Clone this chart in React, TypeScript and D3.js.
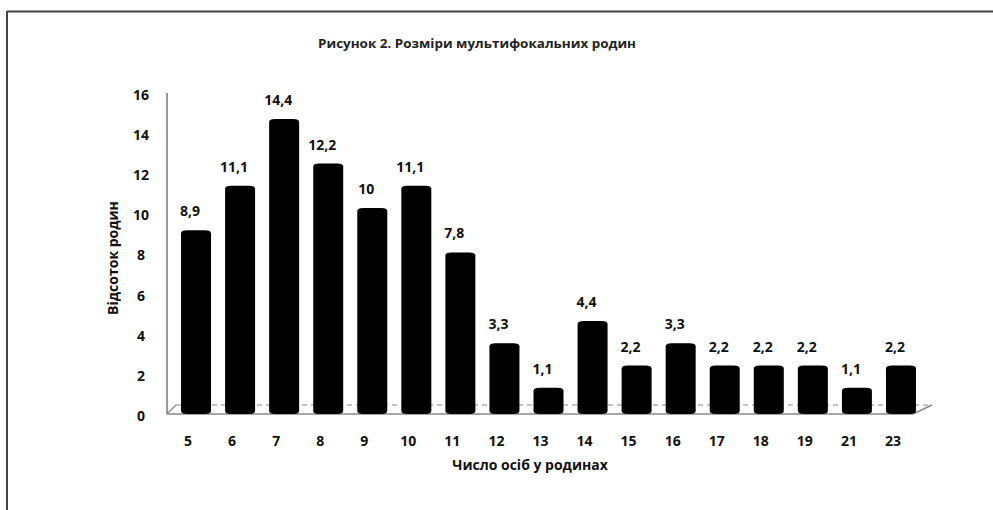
import React, { useEffect, useRef } from 'react';
import * as d3 from 'd3';

const categories = ["5", "6", "7", "8", "9", "10", "11", "12", "13", "14", "15", "16", "17", "18", "19", "21", "23"];
const values = [8.9, 11.1, 14.4, 12.2, 10, 11.1, 7.8, 3.3, 1.1, 4.4, 2.2, 3.3, 2.2, 2.2, 2.2, 1.1, 2.2];
const yTicks = [0, 2, 4, 6, 8, 10, 12, 14, 16];

const title = "Рисунок 2. Розміри мультифокальних родин";
const xTitle = "Число осіб у родинах";
const yTitle = "Відсоток родин";

const font = "'Open Sans', 'DejaVu Sans', sans-serif";

const App = () => {
    const ref = useRef<SVGSVGElement>(null);

    useEffect(() => {
        const svg = d3.select(ref.current);
        svg.selectAll("*").remove();

        const width = 993, height = 510;
        svg.attr("width", width).attr("height", height);

        // frame (top and left edge of the scanned page)
        svg.append("line").attr("x1", 7).attr("x2", width).attr("y1", 11.5).attr("y2", 11.5)
            .attr("stroke", "#444").attr("stroke-width", 2);
        svg.append("line").attr("x1", 7).attr("x2", 7).attr("y1", 11).attr("y2", height)
            .attr("stroke", "#444").attr("stroke-width", 2);

        const x = d3.scaleBand().domain(categories).range([166, 915]);
        const yAxis = d3.scaleLinear().domain([0, 16]).range([416, 95]);
        const yBar = d3.scaleLinear().domain([0, 16]).range([410, 86.8]);
        const depth = 8;
        const floorY = 414;
        const barW = 30;

        // title
        svg.append("text").attr("x", 477).attr("y", 48).attr("text-anchor", "middle")
            .attr("font-family", font).attr("font-weight", "bold").attr("font-size", 13)
            .attr("textLength", 318).attr("lengthAdjust", "spacingAndGlyphs")
            .attr("fill", "#222").text(title);

        // floor
        const left = 167, right = 913;
        svg.append("line").attr("x1", left).attr("x2", right).attr("y1", floorY).attr("y2", floorY)
            .attr("stroke", "#888").attr("stroke-width", 1.5);
        svg.append("line").attr("x1", left + 9).attr("x2", right + 19).attr("y1", floorY - 9).attr("y2", floorY - 9)
            .attr("stroke", "#888").attr("stroke-width", 1.2).attr("stroke-dasharray", "5,4");
        svg.append("line").attr("x1", left).attr("x2", left + 9).attr("y1", floorY).attr("y2", floorY - 9)
            .attr("stroke", "#888").attr("stroke-width", 1.2);
        svg.append("line").attr("x1", right).attr("x2", right + 19).attr("y1", floorY).attr("y2", floorY - 9)
            .attr("stroke", "#888").attr("stroke-width", 1.5);

        // y axis line
        svg.append("line").attr("x1", left).attr("x2", left).attr("y1", 93).attr("y2", floorY)
            .attr("stroke", "#777").attr("stroke-width", 1.5);

        // y tick labels
        svg.selectAll(".ytick").data(yTicks).enter().append("text")
            .attr("x", 141).attr("y", d => yAxis(d)).attr("dy", "0.35em")
            .attr("text-anchor", "middle").attr("font-family", font).attr("font-weight", "bold")
            .attr("font-size", 14).attr("fill", "#111").text(d => d);

        // x tick labels
        svg.selectAll(".xtick").data(categories).enter().append("text")
            .attr("x", d => x(d)! + x.bandwidth() / 2).attr("y", 441).attr("dy", "0.35em")
            .attr("text-anchor", "middle").attr("font-family", font).attr("font-weight", "bold")
            .attr("font-size", 14).attr("fill", "#111").text(d => d);

        // bars (cylinder-like columns)
        const data = categories.map((c, i) => ({ c, v: values[i] }));
        const cx = (d: { c: string }) => x(d.c)! + x.bandwidth() / 2 + depth;
        svg.selectAll(".bar").data(data).enter().append("path")
            .attr("d", d => {
                const x0 = cx(d) - barW / 2, x1 = cx(d) + barW / 2;
                const top = yBar(d.v), bot = floorY;
                const r = 3;
                return `M${x0},${top + r} Q${x0},${top} ${x0 + 6},${top} L${x1 - 6},${top} Q${x1},${top} ${x1},${top + r} `
                    + `L${x1},${bot - r} Q${x1},${bot} ${x1 - 6},${bot} L${x0 + 6},${bot} Q${x0},${bot} ${x0},${bot - r} Z`;
            })
            .attr("fill", "#000");

        // data labels
        svg.selectAll(".lbl").data(data).enter().append("text")
            .attr("x", d => cx(d) - 6).attr("y", d => yBar(d.v) - 14)
            .attr("text-anchor", "middle").attr("font-family", font).attr("font-weight", "bold")
            .attr("font-size", 14).attr("fill", "#111")
            .text(d => String(d.v).replace(".", ","));

        // axis titles
        svg.append("text").attr("x", 530).attr("y", 470).attr("text-anchor", "middle")
            .attr("font-family", font).attr("font-weight", "bold").attr("font-size", 14)
            .attr("fill", "#111").text(xTitle);
        svg.append("text").attr("transform", `translate(118,258) rotate(-90)`).attr("text-anchor", "middle")
            .attr("font-family", font).attr("font-weight", "bold").attr("font-size", 14)
            .attr("fill", "#111").text(yTitle);
    }, []);

    return <svg ref={ref} style={{ position: "absolute", left: 0, top: 0 }} />;
};

export default App;
